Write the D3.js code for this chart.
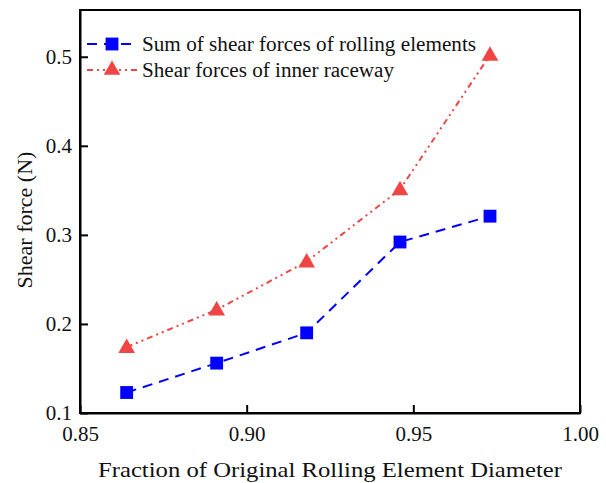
<!DOCTYPE html>
<html>
<head>
<meta charset="utf-8">
<script src="https://cdn.jsdelivr.net/npm/d3@7/dist/d3.min.js"></script>
<style>
body { margin: 0; background: #fff; }
</style>
</head>
<body>
<div id="chart"></div>
<script>
var fractions = [0.864, 0.891, 0.918, 0.946, 0.973];
var sumRolling = [0.123, 0.156, 0.190, 0.292, 0.321];
var innerRaceway = [0.174, 0.216, 0.270, 0.351, 0.502];
var xTicks = [0.85, 0.90, 0.95, 1.00];
var yTicks = [0.1, 0.2, 0.3, 0.4, 0.5];
var seriesNames = ["Sum of shear forces of rolling elements", "Shear forces of inner raceway"];

var serif = "'Liberation Serif', 'Noto Serif', 'DejaVu Serif', serif";
var width = 606, height = 483;
var margin = { left: 80, right: 26, top: 10, bottom: 70 };

var svg = d3.select("#chart").append("svg")
    .attr("width", width)
    .attr("height", height);

var x = d3.scaleLinear().domain([0.85, 1.00]).range([margin.left, width - margin.right]);
var y = d3.scaleLinear().domain([0.1, 0.5525]).range([height - margin.bottom, margin.top]);

var blue = "#0000ff", red = "#f04545";

// frame
svg.append("rect")
    .attr("x", margin.left).attr("y", margin.top)
    .attr("width", width - margin.left - margin.right)
    .attr("height", height - margin.top - margin.bottom)
    .attr("fill", "none").attr("stroke", "#000").attr("stroke-width", 2);

var xAxis = svg.append("g")
    .attr("transform", "translate(0," + (height - margin.bottom) + ")")
    .call(d3.axisBottom(x).tickValues(xTicks).tickFormat(d3.format(".2f")).tickSizeInner(-8).tickSizeOuter(0));
xAxis.select(".domain").attr("stroke-width", 2);
xAxis.selectAll(".tick line").attr("stroke-width", 2);
xAxis.selectAll("text").attr("font-size", 21).attr("dy", "1.15em").attr("y", 4);

var yAxis = svg.append("g")
    .attr("transform", "translate(" + margin.left + ",0)")
    .call(d3.axisLeft(y).tickValues(yTicks).tickFormat(d3.format(".1f")).tickSizeInner(-8).tickSizeOuter(0));
yAxis.select(".domain").attr("stroke-width", 2);
yAxis.selectAll(".tick line").attr("stroke-width", 2);
yAxis.selectAll("text").attr("font-size", 21).attr("x", -8);

svg.append("text")
    .attr("x", 330)
    .attr("y", 477)
    .attr("text-anchor", "middle")
    .attr("font-size", 22)
    .attr("textLength", 464)
    .attr("lengthAdjust", "spacingAndGlyphs")
    .text("Fraction of Original Rolling Element Diameter");

svg.append("text")
    .attr("transform", "translate(32," + 220 + ") rotate(-90)")
    .attr("text-anchor", "middle")
    .attr("font-size", 22)
    .text("Shear force (N)");

var line = d3.line()
    .x(function(d) { return x(d[0]); })
    .y(function(d) { return y(d[1]); });

var blueData = fractions.map(function(f, i) { return [f, sumRolling[i]]; });
var redData = fractions.map(function(f, i) { return [f, innerRaceway[i]]; });

svg.append("path").datum(redData)
    .attr("d", line).attr("fill", "none")
    .attr("stroke", red).attr("stroke-width", 2)
    .attr("stroke-dasharray", "6,4,2,4,2,4");

svg.append("path").datum(blueData)
    .attr("d", line).attr("fill", "none")
    .attr("stroke", blue).attr("stroke-width", 2)
    .attr("stroke-dasharray", "10,7");

var sq = d3.symbol().type(d3.symbolSquare).size(165);
var tri = d3.symbol().type(d3.symbolTriangle).size(120);

svg.selectAll(".sq").data(blueData).enter().append("path")
    .attr("class", "sq")
    .attr("d", sq)
    .attr("transform", function(d) { return "translate(" + x(d[0]) + "," + y(d[1]) + ")"; })
    .attr("fill", blue);

svg.selectAll(".tri").data(redData).enter().append("path")
    .attr("class", "tri")
    .attr("d", tri)
    .attr("transform", function(d) { return "translate(" + x(d[0]) + "," + (y(d[1]) + 1) + ")"; })
    .attr("fill", red);

// legend
var legend = svg.append("g");
var rows = [
    { name: seriesNames[0], color: blue, dash: "10,7", sym: sq, y: 44, len: 334 },
    { name: seriesNames[1], color: red, dash: "6,4,2,4,2,4", sym: tri, y: 70, len: 252 }
];
rows.forEach(function(r) {
    legend.append("line")
        .attr("x1", 87).attr("x2", 137).attr("y1", r.y).attr("y2", r.y)
        .attr("stroke", r.color).attr("stroke-width", 2)
        .attr("stroke-dasharray", r.dash);
    legend.append("path")
        .attr("d", r.sym)
        .attr("transform", "translate(112," + r.y + ")")
        .attr("fill", r.color);
    legend.append("text")
        .attr("x", 142).attr("y", r.y)
        .attr("dy", "0.35em")
        .attr("font-size", 20)
        .attr("textLength", r.len)
        .attr("lengthAdjust", "spacingAndGlyphs")
        .text(r.name);
});

svg.selectAll("text")
    .attr("font-family", serif)
    .style("font-family", serif)
    .attr("fill", "#111");
</script>
</body>
</html>
